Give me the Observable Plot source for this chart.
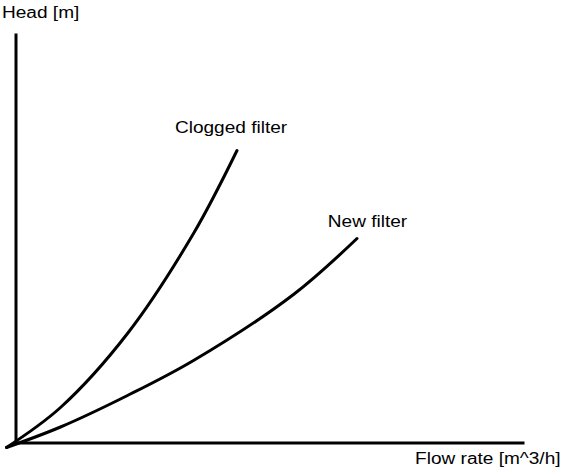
<!DOCTYPE html>
<html>
<head>
<meta charset="utf-8">
<script src="https://cdn.jsdelivr.net/npm/d3@7"></script>
<script src="https://cdn.jsdelivr.net/npm/@observablehq/plot@0.6"></script>
<style>
  html, body { margin: 0; padding: 0; background: #fff; }
</style>
</head>
<body>
<div id="chart"></div>
<script>
// ---- data (arbitrary units) ----
const seriesNames = ["Clogged filter", "New filter"];
const cloggedFlow = [0, 5.4, 12.1, 18.7, 23.05];
const cloggedHead = [0, 4.0, 11.4, 21.4, 29.7];
const newFlow = [0, 5.4, 12.1, 18.7, 28.7, 35.05];
const newHead = [0, 2.05, 5.2, 8.7, 15.3, 20.9];
const xTitle = "Flow rate [m^3/h]";
const yTitle = "Head [m]";

// ---- table built from the arrays ----
const rows = [
  ...cloggedFlow.map((f, i) => ({series: seriesNames[0], flow: f, head: cloggedHead[i]})),
  ...newFlow.map((f, i) => ({series: seriesNames[1], flow: f, head: newHead[i]}))
];
const lastOf = name => {
  const r = rows.filter(d => d.series === name);
  return [r[r.length - 1]];
};

const xDomain = [0.95, 51.7];
const yDomain = [0.45, 41.2];

const chart = Plot.plot({
  width: 561,
  height: 475,
  marginLeft: 15.5,
  marginRight: 38,
  marginTop: 35,
  marginBottom: 32.5,
  style: {fontFamily: "'Liberation Sans', Arial, sans-serif", fontSize: "16px", color: "#000", background: "#fff", overflow: "visible"},
  x: {domain: xDomain, axis: null},
  y: {domain: yDomain, axis: null},
  marks: [
    Plot.ruleX([xDomain[0]], {stroke: "#000", strokeWidth: 3, strokeLinecap: "square"}),
    Plot.ruleY([yDomain[0]], {stroke: "#000", strokeWidth: 3, strokeLinecap: "square"}),
    Plot.line(rows, {x: "flow", y: "head", z: "series", stroke: "#000", strokeWidth: 3, curve: "catmull-rom"}),
    Plot.text(lastOf(seriesNames[0]), {x: "flow", y: "head", text: "series", textAnchor: "middle", lineAnchor: "bottom", dx: -6, dy: -18, fill: "#000"}),
    Plot.text(lastOf(seriesNames[1]), {x: "flow", y: "head", text: "series", textAnchor: "middle", lineAnchor: "bottom", dx: 10.5, dy: -11.5, fill: "#000"}),
    Plot.text([yTitle], {text: d => d, frameAnchor: "top-left", textAnchor: "start", lineAnchor: "bottom", dx: -14, dy: -18, fill: "#000"}),
    Plot.text([xTitle], {text: d => d, frameAnchor: "bottom-right", textAnchor: "end", lineAnchor: "bottom", dx: 37, dy: 20.5, fill: "#000"})
  ]
});
document.getElementById("chart").append(chart);
// reference glyphs are slightly wider than the installed sans font
chart.querySelectorAll("text").forEach(t => {
  const L = t.getComputedTextLength();
  t.setAttribute("textLength", (L * 1.19).toFixed(1));
  t.setAttribute("lengthAdjust", "spacingAndGlyphs");
});
</script>
</body>
</html>
